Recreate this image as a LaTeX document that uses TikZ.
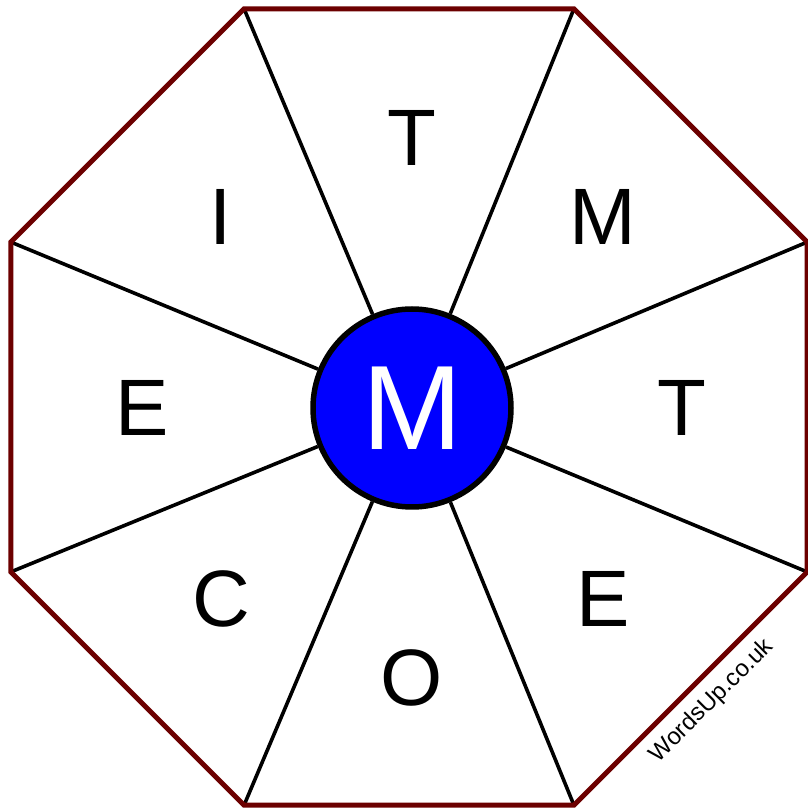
\documentclass[tikz,border=0pt]{standalone}
\usepackage{fontspec}
\setmainfont{Liberation Sans}
\usetikzlibrary{positioning, calc}
\definecolor{rimred}{RGB}{108,0,0}
\definecolor{hubblue}{RGB}{0,0,255}

\begin{document}
\begin{tikzpicture}[x=1pt, y=1pt,
  letter/.style={font=\fontsize{80}{80}\selectfont, inner sep=0pt},
  spoke/.style={draw=black, line width=3.6pt},
  rim/.style={draw=rimred, line width=5pt, line join=miter}]
\useasboundingbox (0,0) rectangle (808,809);
\coordinate (mid) at (409,402);
\foreach \i in {0,...,7}
  \coordinate (v\i) at ($(mid)+(22.5+45*\i:431)$);
\node[circle, draw=black, line width=5.5pt, fill=hubblue, minimum size=198pt,
  inner sep=0pt, text=white, font=\fontsize{120}{120}\selectfont] (hub) at (412,401) {M};
% spokes from the hub out to the corners
\foreach \i in {0,...,7}
  \draw[spoke] (hub) -- (v\i);
\draw[rim] (v0) -- (v1) -- (v2) -- (v3) -- (v4) -- (v5) -- (v6) -- (v7) -- cycle;
% letters round the wheel
\foreach \ang/\ch [count=\k] in {90/T,45/M,0/T,-45/E,-90/O,-135/C,180/E,135/I}
  \node[letter] (ch\k) at ($(hub)+(\ang:270)$) {\ch};
\node[rotate=45, font=\fontsize{24}{24}\selectfont] (mark) at (712,108) {WordsUp.co.uk};
\end{tikzpicture}
\end{document}
